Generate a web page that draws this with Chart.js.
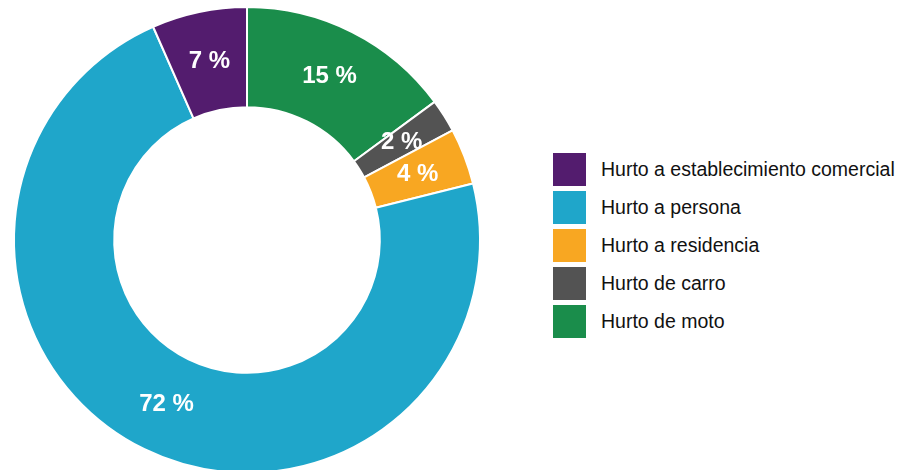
<!DOCTYPE html>
<html>
<head>
<meta charset="utf-8">
<script src="https://cdn.jsdelivr.net/npm/chart.js@4.4.0/dist/chart.umd.min.js"></script>
<style>
  html, body { margin: 0; padding: 0; background: #fff; }
  #wrap { position: relative; width: 900px; height: 470px; overflow: hidden; }
  #pie { position: absolute; left: 0; top: 0; width: 494px; height: 480px; }
  #legend { position: absolute; left: 553px; top: 153px; font-family: "Liberation Sans", Arial, sans-serif; font-size: 19.5px; color: #111; }
  .item { display: flex; align-items: center; height: 33px; margin-bottom: 5px; white-space: nowrap; }
  .box { width: 33px; height: 33px; margin-right: 15px; flex: none; }
</style>
</head>
<body>
<div id="wrap">
  <div id="pie"><canvas id="myChart"></canvas></div>
  <div id="legend"></div>
</div>
<script>
// slices in drawing order, clockwise from the top
var categories = ['Hurto de moto', 'Hurto de carro', 'Hurto a residencia', 'Hurto a persona', 'Hurto a establecimiento comercial'];
var shares = [14.9, 2.3, 3.9, 72.3, 6.6];
var colors = ['#1a8d4b', '#535353', '#f8a722', '#1fa6ca', '#531c6e'];

// white percent text in the middle of each slice
const sliceLabels = {
    id: 'sliceLabels',
    afterDatasetsDraw(chart) {
        const ctx = chart.ctx;
        const meta = chart.getDatasetMeta(0);
        const total = shares.reduce((a, b) => a + b, 0);
        ctx.save();
        ctx.font = 'bold 24px "Liberation Sans", Arial, sans-serif';
        ctx.fillStyle = '#ffffff';
        ctx.textAlign = 'center';
        ctx.textBaseline = 'middle';
        meta.data.forEach(function (arc, i) {
            const p = arc.tooltipPosition();
            ctx.fillText(Math.round(shares[i] / total * 100) + ' %', p.x, p.y);
        });
        ctx.restore();
    }
};

const config = {
    type: 'doughnut',
    data: {
        labels: categories,
        datasets: [{
            data: shares,
            backgroundColor: colors,
            borderColor: '#ffffff',
            borderWidth: 2
        }]
    },
    options: {
        responsive: true,
        maintainAspectRatio: false,
        animation: false,
        cutout: '57%',
        layout: {padding: {top: 6, bottom: 6}},
        plugins: {
            legend: {display: false},
            tooltip: {enabled: false}
        }
    },
    plugins: [sliceLabels]
};

let myChart = new Chart(document.getElementById('myChart'), config);

// legend, listed in reverse of the drawing order
var legend = document.getElementById('legend');
for (var j = categories.length - 1; j >= 0; j--) {
    var item = document.createElement('div');
    item.className = 'item';
    var box = document.createElement('div');
    box.className = 'box';
    box.style.background = colors[j];
    var txt = document.createElement('span');
    txt.textContent = categories[j];
    item.appendChild(box);
    item.appendChild(txt);
    legend.appendChild(item);
}
</script>
</body>
</html>
